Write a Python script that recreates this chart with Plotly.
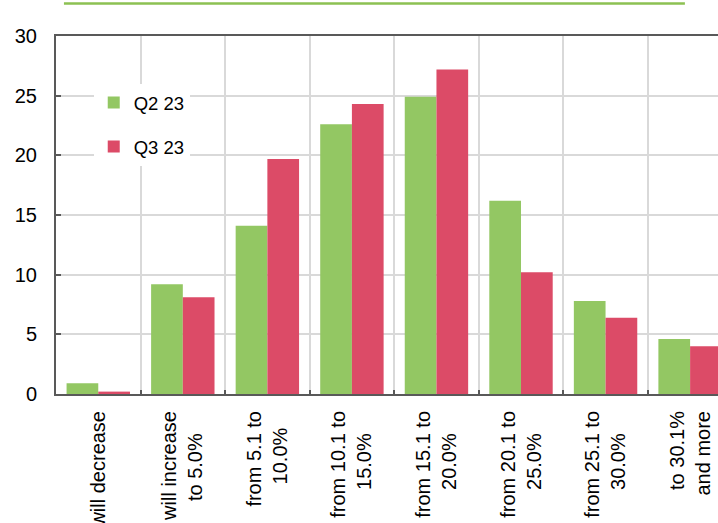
import plotly.graph_objects as go

# Expected change, share of respondents (%)
category_lines = [
    ["will decrease"],
    ["will increase", "to 5.0%"],
    ["from 5.1 to", "10.0%"],
    ["from 10.1 to", "15.0%"],
    ["from 15.1 to", "20.0%"],
    ["from 20.1 to", "25.0%"],
    ["from 25.1 to", "30.0%"],
    ["to 30.1%", "and more"],
]
q2_23 = [0.9, 9.2, 14.1, 22.6, 24.9, 16.2, 7.8, 4.6]
q3_23 = [0.2, 8.1, 19.7, 24.3, 27.2, 10.2, 6.4, 4.0]
series_names = ["Q2 23", "Q3 23"]

GREEN = "#93C763"
RED = "#DC4B67"
AXIS = "#595959"
GRID = "#D9D9D9"
FONT = "Arial, Liberation Sans, sans-serif"

# Approximate Arial advance widths (em) used to centre the lines of the
# rotated category labels against each other.
_W = {"a": .556, "c": .5, "d": .556, "e": .556, "f": .278, "i": .222,
      "l": .222, "m": .833, "n": .556, "o": .556, "r": .333, "s": .5,
      "t": .278, "w": .722, ".": .278, "%": .889, " ": .278}


def _width(s):
    return sum(_W.get(ch, .556) for ch in s)


def centred_label(lines):
    widest = max(_width(l) for l in lines)
    out = []
    for l in lines:
        n = round((widest - _width(l)) / 2 / 0.278)
        out.append(l + "\u00a0" * n)
    return "<br>".join(out)


categories = [centred_label(l) for l in category_lines]

fig = go.Figure()
fig.add_trace(go.Bar(x=categories, y=q2_23, name=series_names[0],
                     marker=dict(color=GREEN, line=dict(width=0)),
                     legendgroup="a"))
fig.add_trace(go.Bar(x=categories, y=q3_23, name=series_names[1],
                     marker=dict(color=RED, line=dict(width=0)),
                     legendgroup="b"))

fig.update_layout(
    width=718, height=523,
    margin=dict(l=56, r=0, t=36, b=129, autoexpand=False),
    paper_bgcolor="white", plot_bgcolor="white",
    font=dict(family=FONT, color="#000000"),
    barmode="group", bargap=0.25, bargroupgap=0,
    showlegend=True,
    legend=dict(
        x=0.057, y=0.866, xanchor="left", yanchor="top",
        bgcolor="white", borderwidth=0,
        font=dict(family=FONT, size=18.5, color="#000000"),
        tracegroupgap=17, itemwidth=30,
    ),
    shapes=[dict(type="line", xref="paper", yref="paper",
                 x0=0.012, x1=0.950, y0=1.0905, y1=1.0905,
                 line=dict(color="#8CC152", width=2.5))],
)

fig.update_xaxes(
    type="category", range=[-0.5, 7.33], automargin=False,
    tickson="boundaries", ticks="inside", ticklen=4, tickwidth=1.5,
    tickcolor=AXIS, tickangle=-90,
    tickfont=dict(family=FONT, size=20, color="#000000"),
    ticklabelstandoff=7,
    showgrid=True, gridcolor=GRID, gridwidth=1.5,
    showline=True, linecolor=AXIS, linewidth=2, mirror=True,
)
fig.update_yaxes(
    range=[0, 30], dtick=5, tick0=0, automargin=False,
    ticks="inside", ticklen=5, tickwidth=1.5, tickcolor=AXIS,
    tickfont=dict(family=FONT, size=20, color="#000000"),
    ticklabelstandoff=13,
    showgrid=True, gridcolor=GRID, gridwidth=1.5,
    zeroline=False,
    showline=True, linecolor=AXIS, linewidth=2,
)

fig.write_html("out.html")
